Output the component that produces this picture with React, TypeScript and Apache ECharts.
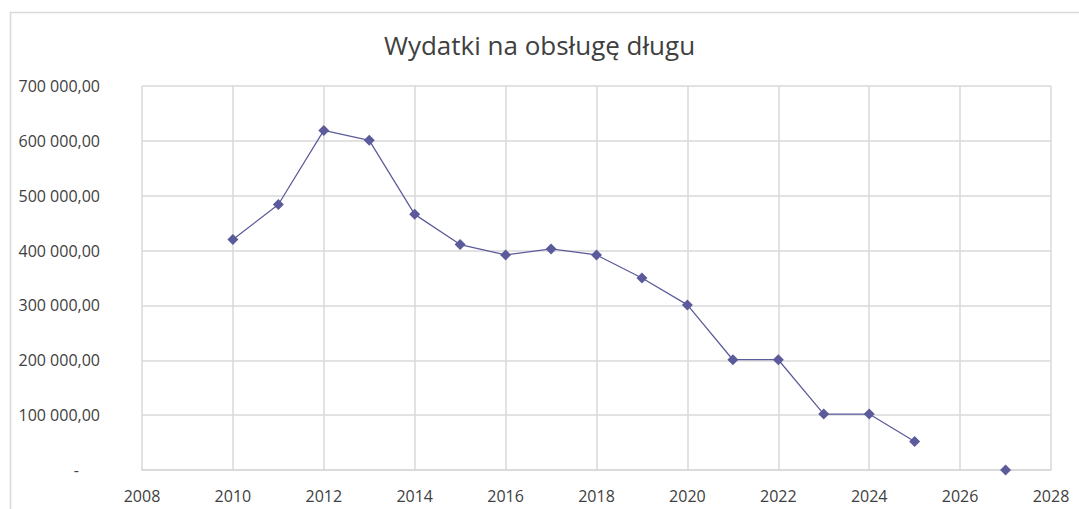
import React, { useEffect, useRef } from "react";
import * as echarts from "echarts";

const titleText = "Wydatki na obsługę długu";
const years = [2010, 2011, 2012, 2013, 2014, 2015, 2016, 2017, 2018, 2019, 2020, 2021, 2022, 2023, 2024, 2025, 2026, 2027];
const values: (number | null)[] = [420000, 484000, 619000, 601000, 466000, 411000, 392000, 403000, 392000, 350000, 301000, 201000, 201000, 102000, 102000, 52000, null, 0];
const xMin = 2008;
const xMax = 2028;
const xStep = 2;
const yMin = 0;
const yMax = 700000;
const yStep = 100000;

const fmtY = (v: number) => {
  if (v === 0) return "{z|-}";
  const fixed = v.toFixed(2).replace(".", ",");
  const [int, dec] = fixed.split(",");
  const grouped = int.replace(/\B(?=(\d{3})+(?!\d))/g, " ");
  return grouped + "," + dec;
};

export default function App() {
  const ref = useRef<HTMLDivElement>(null);
  useEffect(() => {
    document.body.style.margin = "0";
    const chart = echarts.init(ref.current!, null, { renderer: "svg" });
    const font = "'Open Sans', sans-serif";
    const txt = "#404040";
    chart.setOption({
      animation: false,
      backgroundColor: "#ffffff",
      textStyle: { fontFamily: font },
      title: {
        text: titleText,
        left: "center",
        top: 27,
        textStyle: { fontFamily: font, fontSize: 26, fontWeight: "normal", color: txt },
      },
      graphic: [
        {
          type: "rect",
          shape: { x: 10.5, y: 12.5, width: 1200, height: 600 },
          style: { fill: "none", stroke: "#d9d9d9", lineWidth: 1.5 },
          silent: true,
        },
      ],
      grid: { left: 142, right: 28, top: 86, bottom: 39, containLabel: false },
      xAxis: {
        type: "value",
        min: xMin,
        max: xMax,
        interval: xStep,
        axisLine: { show: true, lineStyle: { color: "#d9d9d9", width: 1.5 } },
        axisTick: { show: false },
        splitLine: { show: true, lineStyle: { color: "#d9d9d9", width: 1.5 } },
        axisLabel: { color: txt, fontSize: 16, fontFamily: font, margin: 18, formatter: (v: number) => String(v) },
      },
      yAxis: {
        type: "value",
        min: yMin,
        max: yMax,
        interval: yStep,
        axisLine: { show: false },
        axisTick: { show: false },
        splitLine: { show: true, lineStyle: { color: "#d9d9d9", width: 1.5 } },
        axisLabel: {
          color: txt,
          fontSize: 16,
          fontFamily: font,
          margin: 42,
          align: "right",
          formatter: fmtY,
          rich: { z: { color: txt, fontSize: 16, fontFamily: font, padding: [0, 21, 0, 0] } },
        },
      },
      series: [
        {
          type: "line",
          data: years.map((y, i) => [y, values[i]]),
          connectNulls: false,
          symbol: "diamond",
          symbolSize: 11,
          lineStyle: { color: "#5b5b9b", width: 1.25 },
          itemStyle: { color: "#5b5b9b" },
        },
      ],
    });
    return () => chart.dispose();
  }, []);
  return <div ref={ref} style={{ position: "fixed", left: 0, top: 0, width: 1079, height: 509 }} />;
}
